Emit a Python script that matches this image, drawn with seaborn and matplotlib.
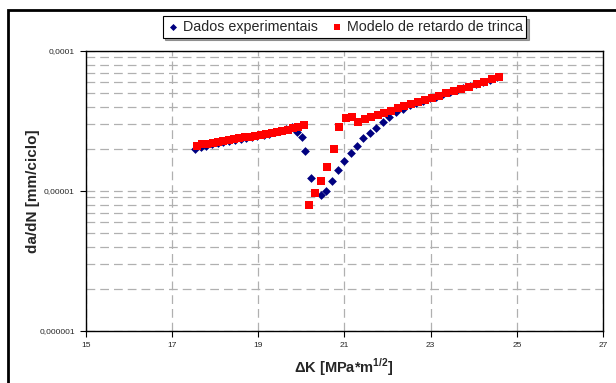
import numpy as np
import pandas as pd
import matplotlib
matplotlib.use("Agg")
import matplotlib.pyplot as plt
import matplotlib.ticker as mticker
from matplotlib.patches import Rectangle
import seaborn as sns

# ---- data ----
exp_dk = [17.53, 17.66, 17.79, 17.93, 18.06, 18.19, 18.32, 18.46, 18.59, 18.72,
          18.85, 18.98, 19.12, 19.25, 19.38, 19.51, 19.64, 19.77,
          19.90, 20.02, 20.09, 20.23, 20.45, 20.58, 20.72, 20.85, 21.00, 21.14,
          21.28, 21.44, 21.585, 21.73, 21.89, 22.04, 22.20, 22.35,
          22.51, 22.67, 22.82, 22.98, 23.13, 23.29, 23.44, 23.60, 23.75, 23.91,
          24.06, 24.22, 24.37, 24.53]
exp_dadn = [2.00e-5, 2.07e-5, 2.11e-5, 2.15e-5, 2.19e-5, 2.23e-5, 2.27e-5, 2.31e-5, 2.35e-5, 2.39e-5,
            2.43e-5, 2.48e-5, 2.52e-5, 2.57e-5, 2.62e-5, 2.68e-5, 2.77e-5, 2.88e-5,
            2.62e-5, 2.44e-5, 1.93e-5, 1.24e-5, 9.3e-6, 1.00e-5, 1.18e-5, 1.41e-5, 1.64e-5, 1.87e-5,
            2.11e-5, 2.38e-5, 2.61e-5, 2.83e-5, 3.11e-5, 3.38e-5, 3.65e-5, 3.87e-5,
            4.09e-5, 4.28e-5, 4.42e-5, 4.58e-5, 4.73e-5, 4.90e-5, 5.07e-5, 5.24e-5, 5.42e-5, 5.60e-5,
            5.78e-5, 5.98e-5, 6.20e-5, 6.49e-5]

mod_dk = [17.57, 17.69, 17.82, 17.94, 18.07, 18.19, 18.31, 18.44, 18.56, 18.69,
          18.81, 18.93, 19.06, 19.18, 19.31, 19.43, 19.55, 19.68, 19.80, 19.93, 20.05,
          20.18, 20.32, 20.46, 20.60, 20.75, 20.88, 21.03, 21.17, 21.32, 21.47,
          21.615, 21.77, 21.92, 22.08, 22.235, 22.39, 22.55, 22.71, 22.87, 23.03,
          23.20, 23.36, 23.53, 23.71, 23.89, 24.07, 24.24, 24.42, 24.59]
mod_dadn = [2.11e-5, 2.15e-5, 2.18e-5, 2.21e-5, 2.24e-5, 2.28e-5, 2.31e-5, 2.35e-5, 2.38e-5, 2.42e-5,
            2.45e-5, 2.49e-5, 2.53e-5, 2.57e-5, 2.61e-5, 2.65e-5, 2.69e-5, 2.74e-5, 2.80e-5, 2.87e-5, 2.95e-5,
            7.94e-6, 9.63e-6, 1.18e-5, 1.49e-5, 1.99e-5, 2.85e-5, 3.34e-5, 3.40e-5, 3.11e-5, 3.25e-5,
            3.36e-5, 3.47e-5, 3.61e-5, 3.75e-5, 3.90e-5, 4.03e-5, 4.16e-5, 4.32e-5, 4.47e-5, 4.64e-5,
            4.80e-5, 4.99e-5, 5.15e-5, 5.35e-5, 5.56e-5, 5.78e-5, 6.01e-5, 6.27e-5, 6.55e-5]

series_names = ["Dados experimentais", "Modelo de retardo de trinca"]
x_ticks = [15, 17, 19, 21, 23, 25, 27]
y_ticks = [1e-6, 1e-5, 1e-4]
y_tick_labels = ["0,000001", "0,00001", "0,0001"]

# ---- style ----
sns.set_style("white")
plt.rcParams["font.family"] = ["Liberation Sans", "DejaVu Sans"]
plt.rcParams["mathtext.fontset"] = "custom"
plt.rcParams["mathtext.rm"] = "Liberation Sans"
plt.rcParams["mathtext.bf"] = "Liberation Sans:bold"

df_exp = pd.DataFrame({"dK": exp_dk, "dadN": exp_dadn, "serie": series_names[0]})
df_mod = pd.DataFrame({"dK": mod_dk, "dadN": mod_dadn, "serie": series_names[1]})

fig = plt.figure(figsize=(6.16, 3.83), dpi=100)
ax = fig.add_axes([86 / 616, 1 - 331 / 383, (603 - 86) / 616, (331 - 51) / 383])

sns.scatterplot(data=df_exp, x="dK", y="dadN", ax=ax, marker="D", s=20,
                color="#000080", linewidth=0, label=series_names[0], zorder=3)
sns.scatterplot(data=df_mod, x="dK", y="dadN", ax=ax, marker="s", s=26,
                color="#ff0000", linewidth=0, label=series_names[1], zorder=4)

ax.set_yscale("log")
ax.set_xlim(15, 27)
ax.set_ylim(1e-6, 1e-4)
ax.set_xticks(x_ticks)
ax.set_xticklabels([str(t) for t in x_ticks])
ax.yaxis.set_major_locator(mticker.FixedLocator(y_ticks))
ax.yaxis.set_major_formatter(mticker.FixedFormatter(y_tick_labels))
ax.yaxis.set_minor_locator(mticker.LogLocator(base=10, subs=np.arange(2, 10)))
ax.yaxis.set_minor_formatter(mticker.NullFormatter())

ax.tick_params(axis="both", which="major", labelsize=6, length=4, width=0.8,
               direction="out", color="black", left=True, bottom=True, pad=4)
ax.tick_params(axis="y", which="minor", length=0)

ax.grid(True, which="both", axis="y", color="#b0b0b0", linestyle=(0, (7, 4)), linewidth=0.9)
ax.grid(True, which="major", axis="x", color="#b0b0b0", linestyle=(0, (7, 4)), linewidth=0.9)
ax.set_axisbelow(True)
for sp in ax.spines.values():
    sp.set_color("black")
    sp.set_linewidth(1.0)

ax.set_xlabel(r"ΔK [MPa*m$^{\mathbf{1/2}}$]", fontsize=10.5, fontweight="bold", va="center")
ax.xaxis.set_label_coords((344 - 86) / 517, -(367 - 331) / 280)
ax.set_ylabel("da/dN [mm/ciclo]", fontsize=11, fontweight="bold", va="center")
ax.yaxis.set_label_coords(-(86 - 33) / 517, 0.5)

leg = ax.legend(loc="center", bbox_to_anchor=(344.5 / 616, 1 - 27 / 383),
                bbox_transform=fig.transFigure, ncol=2, frameon=True, fancybox=False,
                shadow=True, fontsize=10.3, handletextpad=0.2, columnspacing=0.8,
                borderpad=0.25, handlelength=1.0, markerscale=0.8)
leg.get_frame().set_edgecolor("black")
leg.get_frame().set_linewidth(0.8)

# outer chart border
fig.patches.append(Rectangle((8 / 616, -0.1), 1.2, 1 - 10 / 383 + 0.1,
                             transform=fig.transFigure, fill=False,
                             edgecolor="black", linewidth=2, zorder=0))

fig.savefig("out.png", dpi=100)
